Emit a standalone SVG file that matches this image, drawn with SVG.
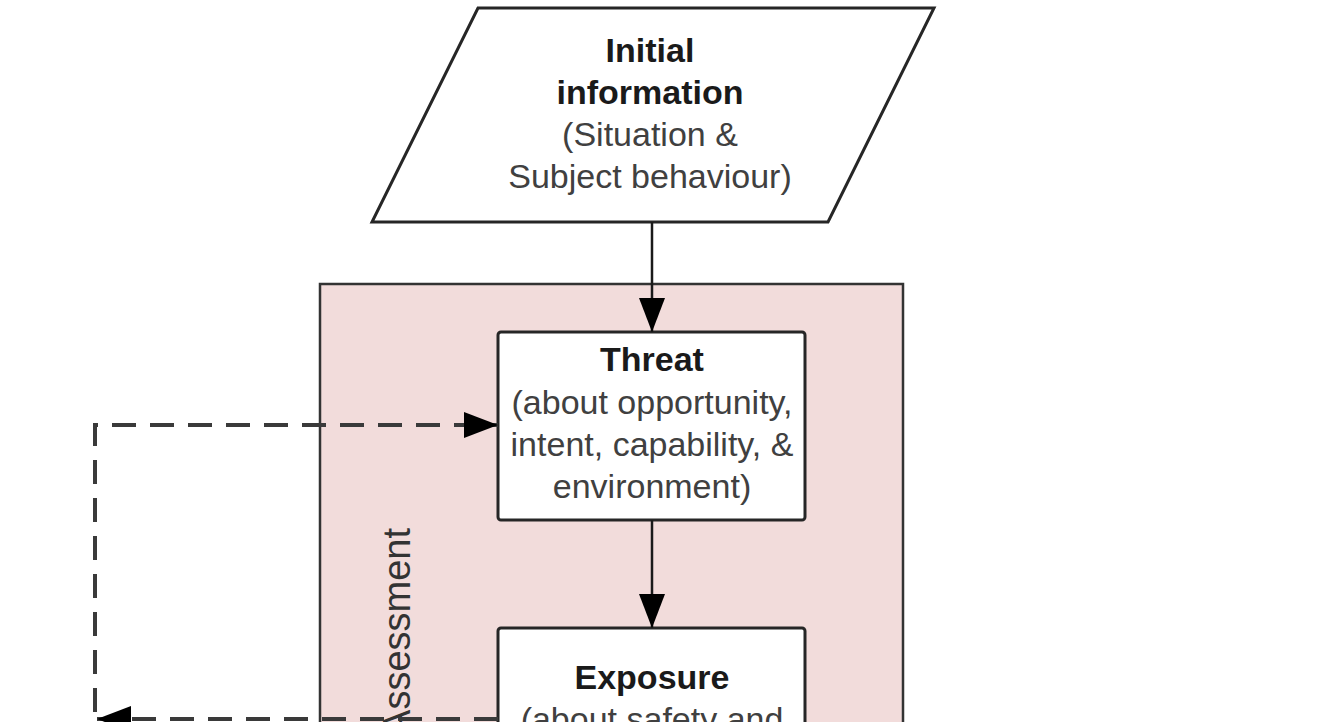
<svg xmlns="http://www.w3.org/2000/svg" width="1318" height="722" viewBox="0 0 1318 722">
<style>
.shape{fill:#fff;stroke:#262626;stroke-width:3}
.title{font-family:"Liberation Sans",Arial,sans-serif;font-size:34px;font-weight:bold;fill:#1a1a1a;text-anchor:middle}
.body{font-family:"Liberation Sans",Arial,sans-serif;font-size:34px;fill:#404040;text-anchor:middle}
.conn{fill:none;stroke:#1a1a1a;stroke-width:2.5}
.dash{fill:none;stroke:#3a3a3a;stroke-width:4;stroke-dasharray:24 14}
</style>
<defs>
<marker id="arr" markerUnits="userSpaceOnUse" markerWidth="34" markerHeight="28" refX="34" refY="13" orient="auto" viewBox="0 0 34 26">
<path d="M0,0 L34,13 L0,26 z" fill="#000"/>
</marker>
</defs>
<rect width="1318" height="722" fill="#fff"/>
<g id="container">
<rect x="320" y="284" width="583" height="460" fill="#f2dcdb" stroke="#333" stroke-width="2.5"/>
<text x="410" y="528" transform="rotate(-90 410 528)" font-family="Liberation Sans,Arial,sans-serif" font-size="38" fill="#333" text-anchor="end">Assessment</text>
</g>
<g id="initial-information">
<polygon class="shape" points="478,8 934,8 828,222 372,222"/>
<text class="title" x="650" y="62">Initial</text>
<text class="title" x="650" y="104">information</text>
<text class="body" x="650" y="146">(Situation &amp;</text>
<text class="body" x="650" y="188">Subject behaviour)</text>
</g>
<g id="threat">
<rect class="shape" x="498" y="332" width="307" height="188" rx="3"/>
<text class="title" x="652" y="371">Threat</text>
<text class="body" x="652" y="414">(about opportunity,</text>
<text class="body" x="652" y="456">intent, capability, &amp;</text>
<text class="body" x="652" y="498">environment)</text>
</g>
<g id="exposure">
<rect class="shape" x="498" y="628" width="307" height="140" rx="3"/>
<text class="title" x="652" y="689">Exposure</text>
<text class="body" x="652" y="731">(about safety and</text>
</g>
<g id="connectors">
<line class="conn" x1="652" y1="222" x2="652" y2="332" marker-end="url(#arr)"/>
<line class="conn" x1="652" y1="520" x2="652" y2="628" marker-end="url(#arr)"/>
<path class="dash" d="M95,712 L95,425 L498,425" marker-end="url(#arr)"/>
<line class="dash" x1="498" y1="719" x2="97" y2="719" marker-end="url(#arr)"/>
</g>
</svg>
